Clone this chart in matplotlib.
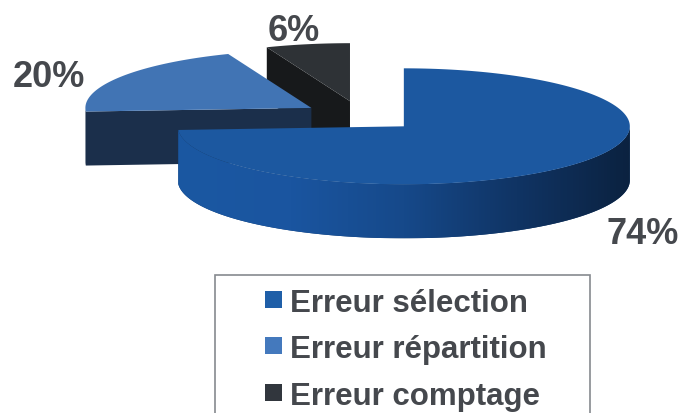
import numpy as np
import matplotlib
matplotlib.use("Agg")
import matplotlib.pyplot as plt
from matplotlib.patches import Polygon, Rectangle
from matplotlib.colors import LinearSegmentedColormap

# données du graphique
categories = ['Erreur sélection', 'Erreur répartition', 'Erreur comptage']
values = [74, 20, 6]
top_colors = ['#1c58a0', '#4174b4', '#2e3236']
face_colors = ['#123a6c', '#1b2f4b', '#17191b']
legend_colors = ['#1f5fa8', '#4479bd', '#31363d']

# géométrie du camembert 3D (en pixels)
cx, cy = 361, 117
rx, ry = 226, 58
depth = 54
explode = 0.26
text_color = '#45484d'

plt.rcParams['font.family'] = ['Liberation Sans', 'DejaVu Sans']

fig = plt.figure(figsize=(6.84, 4.14), dpi=100)
ax = fig.add_axes([0, 0, 1, 1])
ax.set_xlim(0, 684)
ax.set_ylim(414, 0)
ax.axis('off')


def pt(c, theta, dz=0.0):
    # angle en degrés, sens horaire depuis 12h
    t = np.radians(theta)
    return np.column_stack([c[0] + rx * np.sin(t), c[1] - ry * np.cos(t) + dz])


wall_cmap = LinearSegmentedColormap.from_list(
    'wall', ['#1b58a2', '#1a55a0', '#16498a', '#103464', '#0b2240'],
)

# angles de chaque part
total = float(sum(values))
starts = np.cumsum([0] + values[:-1]) / total * 360
spans = np.array(values) / total * 360

slices = []
for i, v in enumerate(values):
    a0, a1 = starts[i], starts[i] + spans[i]
    mid = np.radians((a0 + a1) / 2)
    c = (cx + explode * rx * np.sin(mid), cy - explode * ry * np.cos(mid))
    slices.append((c[1], i, a0, a1, c))

# des parts du fond vers l'avant
for _, i, a0, a1, c in sorted(slices):
    center = np.array([c])
    # faces radiales visibles
    for phi, visible in ((a0, np.sin(np.radians(a0)) < -1e-6),
                         (a1, np.sin(np.radians(a1)) > 1e-6)):
        if visible:
            e = pt(c, np.array([phi]))
            quad = np.vstack([center, e, e + [0, depth], center + [0, depth]])
            ax.add_patch(Polygon(quad, closed=True, fc=face_colors[i], ec='none'))
    # paroi extérieure (moitié avant)
    w0, w1 = max(a0, 90), min(a1, 270)
    if w1 > w0:
        th = np.linspace(w0, w1, 200)
        upper = pt(c, th)
        lower = pt(c, th[::-1], depth)
        wall = Polygon(np.vstack([upper, lower]), closed=True, fc=face_colors[i], ec='none')
        ax.add_patch(wall)
        if i == 0:
            xs = np.vstack([upper, lower])
            grad = np.linspace(0, 1, 256).reshape(1, -1)
            im = ax.imshow(grad, cmap=wall_cmap, aspect='auto',
                           extent=(xs[:, 0].min(), xs[:, 0].max(), xs[:, 1].max(), xs[:, 1].min()),
                           zorder=wall.get_zorder() + 0.01)
            im.set_clip_path(wall)
            # la face supérieure doit passer au-dessus du dégradé
            top_z = wall.get_zorder() + 0.02
        else:
            top_z = None
    else:
        top_z = None
    # face supérieure
    th = np.linspace(a0, a1, 200)
    top = np.vstack([center, pt(c, th)])
    p = Polygon(top, closed=True, fc=top_colors[i], ec='none')
    if top_z is not None:
        p.set_zorder(top_z)
    ax.add_patch(p)

# étiquettes de pourcentage
label_pos = [(607, 244), (13, 87), (268, 41)]
for v, (x, y) in zip(values, label_pos):
    ax.text(x, y, f'{v}%', fontsize=26, fontweight='bold', color=text_color,
            ha='left', va='baseline', zorder=10)

# légende
ax.add_patch(Rectangle((215, 276), 375, 160, fc='white', ec='#868a8f', lw=1.2, zorder=10))
baselines = [312, 358, 405]
for name, col, yb in zip(categories, legend_colors, baselines):
    ax.add_patch(Rectangle((265, yb - 20), 17, 17, fc=col, ec='none', zorder=11))
    ax.text(290, yb, name, fontsize=22.5, fontweight='bold', color=text_color,
            ha='left', va='baseline', zorder=11)

fig.savefig('out.png', dpi=100)
